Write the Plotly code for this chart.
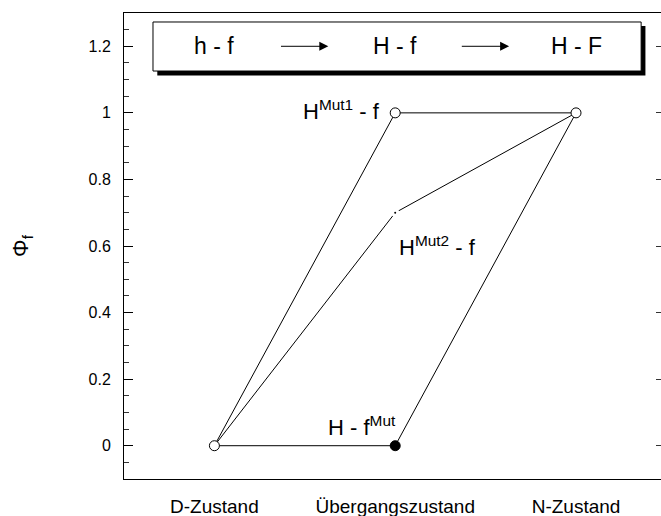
import plotly.graph_objects as go

# Reaction coordinate states and fractional Phi values along each path
states = ["D-Zustand", "Übergangszustand", "N-Zustand"]
phi_hmut1 = [0, 1, 1]      # H^Mut1 - f
phi_hmut2 = [0, 0.7, 1]    # H^Mut2 - f
phi_fmut = [0, 0, 1]       # H - f^Mut

scheme = ["h - f", "H - f", "H - F"]
y_ticks = [0, 0.2, 0.4, 0.6, 0.8, 1.0, 1.2]

FONT = "Arial, Liberation Sans, sans-serif"
xs = list(range(len(states)))

fig = go.Figure()

line_style = dict(color="black", width=1)
for ys in (phi_hmut1, phi_hmut2, phi_fmut):
    fig.add_trace(go.Scatter(x=xs, y=ys, mode="lines", line=line_style,
                             hoverinfo="skip", showlegend=False))

# small break at the H^Mut2 transition-state vertex
fig.add_trace(go.Scatter(x=[xs[1]], y=[phi_hmut2[1]], mode="markers",
                         marker=dict(size=8, color="white", line=dict(width=0)),
                         showlegend=False, hoverinfo="skip"))
fig.add_trace(go.Scatter(x=[xs[1]], y=[phi_hmut2[1]], mode="markers",
                         marker=dict(size=2, color="black", line=dict(width=0)),
                         showlegend=False, hoverinfo="skip"))

# open circles: D state, H^Mut1 transition state, N state
fig.add_trace(go.Scatter(x=[xs[0], xs[1], xs[2]],
                         y=[phi_hmut1[0], phi_hmut1[1], phi_hmut1[2]],
                         mode="markers",
                         marker=dict(size=10, color="white",
                                     line=dict(color="black", width=1)),
                         showlegend=False))
# filled circle: H - f^Mut transition state
fig.add_trace(go.Scatter(x=[xs[1]], y=[phi_fmut[1]], mode="markers",
                         marker=dict(size=10, color="black",
                                     line=dict(color="black", width=1)),
                         showlegend=False))

# invisible trace carrying the right-hand tick axis
fig.add_trace(go.Scatter(x=[xs[0]], y=[0], yaxis="y2", mode="markers",
                         marker=dict(opacity=0), showlegend=False,
                         hoverinfo="skip"))

annotations = []
# path labels
annotations.append(dict(x=xs[1], y=phi_hmut1[1], xref="x", yref="y",
                        text="H<sup>Mut1</sup> - f", showarrow=False,
                        xanchor="right", yanchor="middle", xshift=-13, yshift=3,
                        font=dict(size=22, family=FONT, color="black")))
annotations.append(dict(x=xs[1], y=phi_hmut2[1], xref="x", yref="y",
                        text="H<sup>Mut2</sup> - f", showarrow=False,
                        xanchor="left", yanchor="top", xshift=2, yshift=-17,
                        font=dict(size=22, family=FONT, color="black")))
annotations.append(dict(x=xs[1], y=phi_fmut[1], xref="x", yref="y",
                        text="H - f<sup>Mut</sup>", showarrow=False,
                        xanchor="right", yanchor="bottom", xshift=3, yshift=4,
                        font=dict(size=22, family=FONT, color="black")))

# reaction scheme in the header box
for i, txt in enumerate(scheme):
    annotations.append(dict(x=xs[i], y=1.2, xref="x", yref="y", text=txt,
                            showarrow=False, xanchor="center", yanchor="middle",
                            font=dict(size=23, family=FONT, color="black")))
for i in range(len(scheme) - 1):
    annotations.append(dict(x=xs[i] + 0.63, y=1.2, ax=xs[i] + 0.36, ay=1.2,
                            xref="x", yref="y", axref="x", ayref="y", text="",
                            showarrow=True, arrowhead=2, arrowsize=1.8,
                            arrowwidth=1, arrowcolor="black"))

shapes = [
    # drop shadow of the scheme box
    dict(type="rect", xref="paper", yref="paper", x0=0.062, x1=0.971,
         y0=0.866, y1=0.972, fillcolor="black", line=dict(width=0), layer="below"),
    dict(type="rect", xref="paper", yref="paper", x0=0.054, x1=0.963,
         y0=0.8755, y1=0.9807, fillcolor="white",
         line=dict(color="black", width=1), layer="below"),
]

fig.update_layout(
    width=661, height=516,
    margin=dict(l=124, r=0, t=13, b=37),
    plot_bgcolor="white", paper_bgcolor="white",
    font=dict(family=FONT, color="black"),
    xaxis=dict(range=[-0.5, 2.47], tickvals=xs, ticktext=states,
               showgrid=False, zeroline=False, showline=True, mirror=True,
               linecolor="black", linewidth=1, ticks="", automargin=False,
               tickfont=dict(size=19, family=FONT), ticklabelstandoff=10),
    yaxis=dict(range=[-0.1, 1.3], tickvals=y_ticks, showgrid=False,
               zeroline=False, showline=True, linecolor="black", linewidth=1,
               ticks="inside", ticklen=9, tickcolor="black", automargin=False,
               tickfont=dict(size=16, family=FONT), ticklabelstandoff=9,
               minor=dict(dtick=0.05, tick0=0, ticks="inside", ticklen=5,
                          tickcolor="#333"),
               title=dict(text="Φ<sub>f</sub>", font=dict(size=22, family=FONT),
                          standoff=53)),
    yaxis2=dict(range=[-0.1, 1.3], overlaying="y", side="right",
                tickvals=y_ticks, ticks="inside", ticklen=5, tickcolor="#333",
                showticklabels=False, showgrid=False, zeroline=False,
                showline=False, automargin=False),
    annotations=annotations,
    shapes=shapes,
    showlegend=False,
)

fig.write_html("out.html")
